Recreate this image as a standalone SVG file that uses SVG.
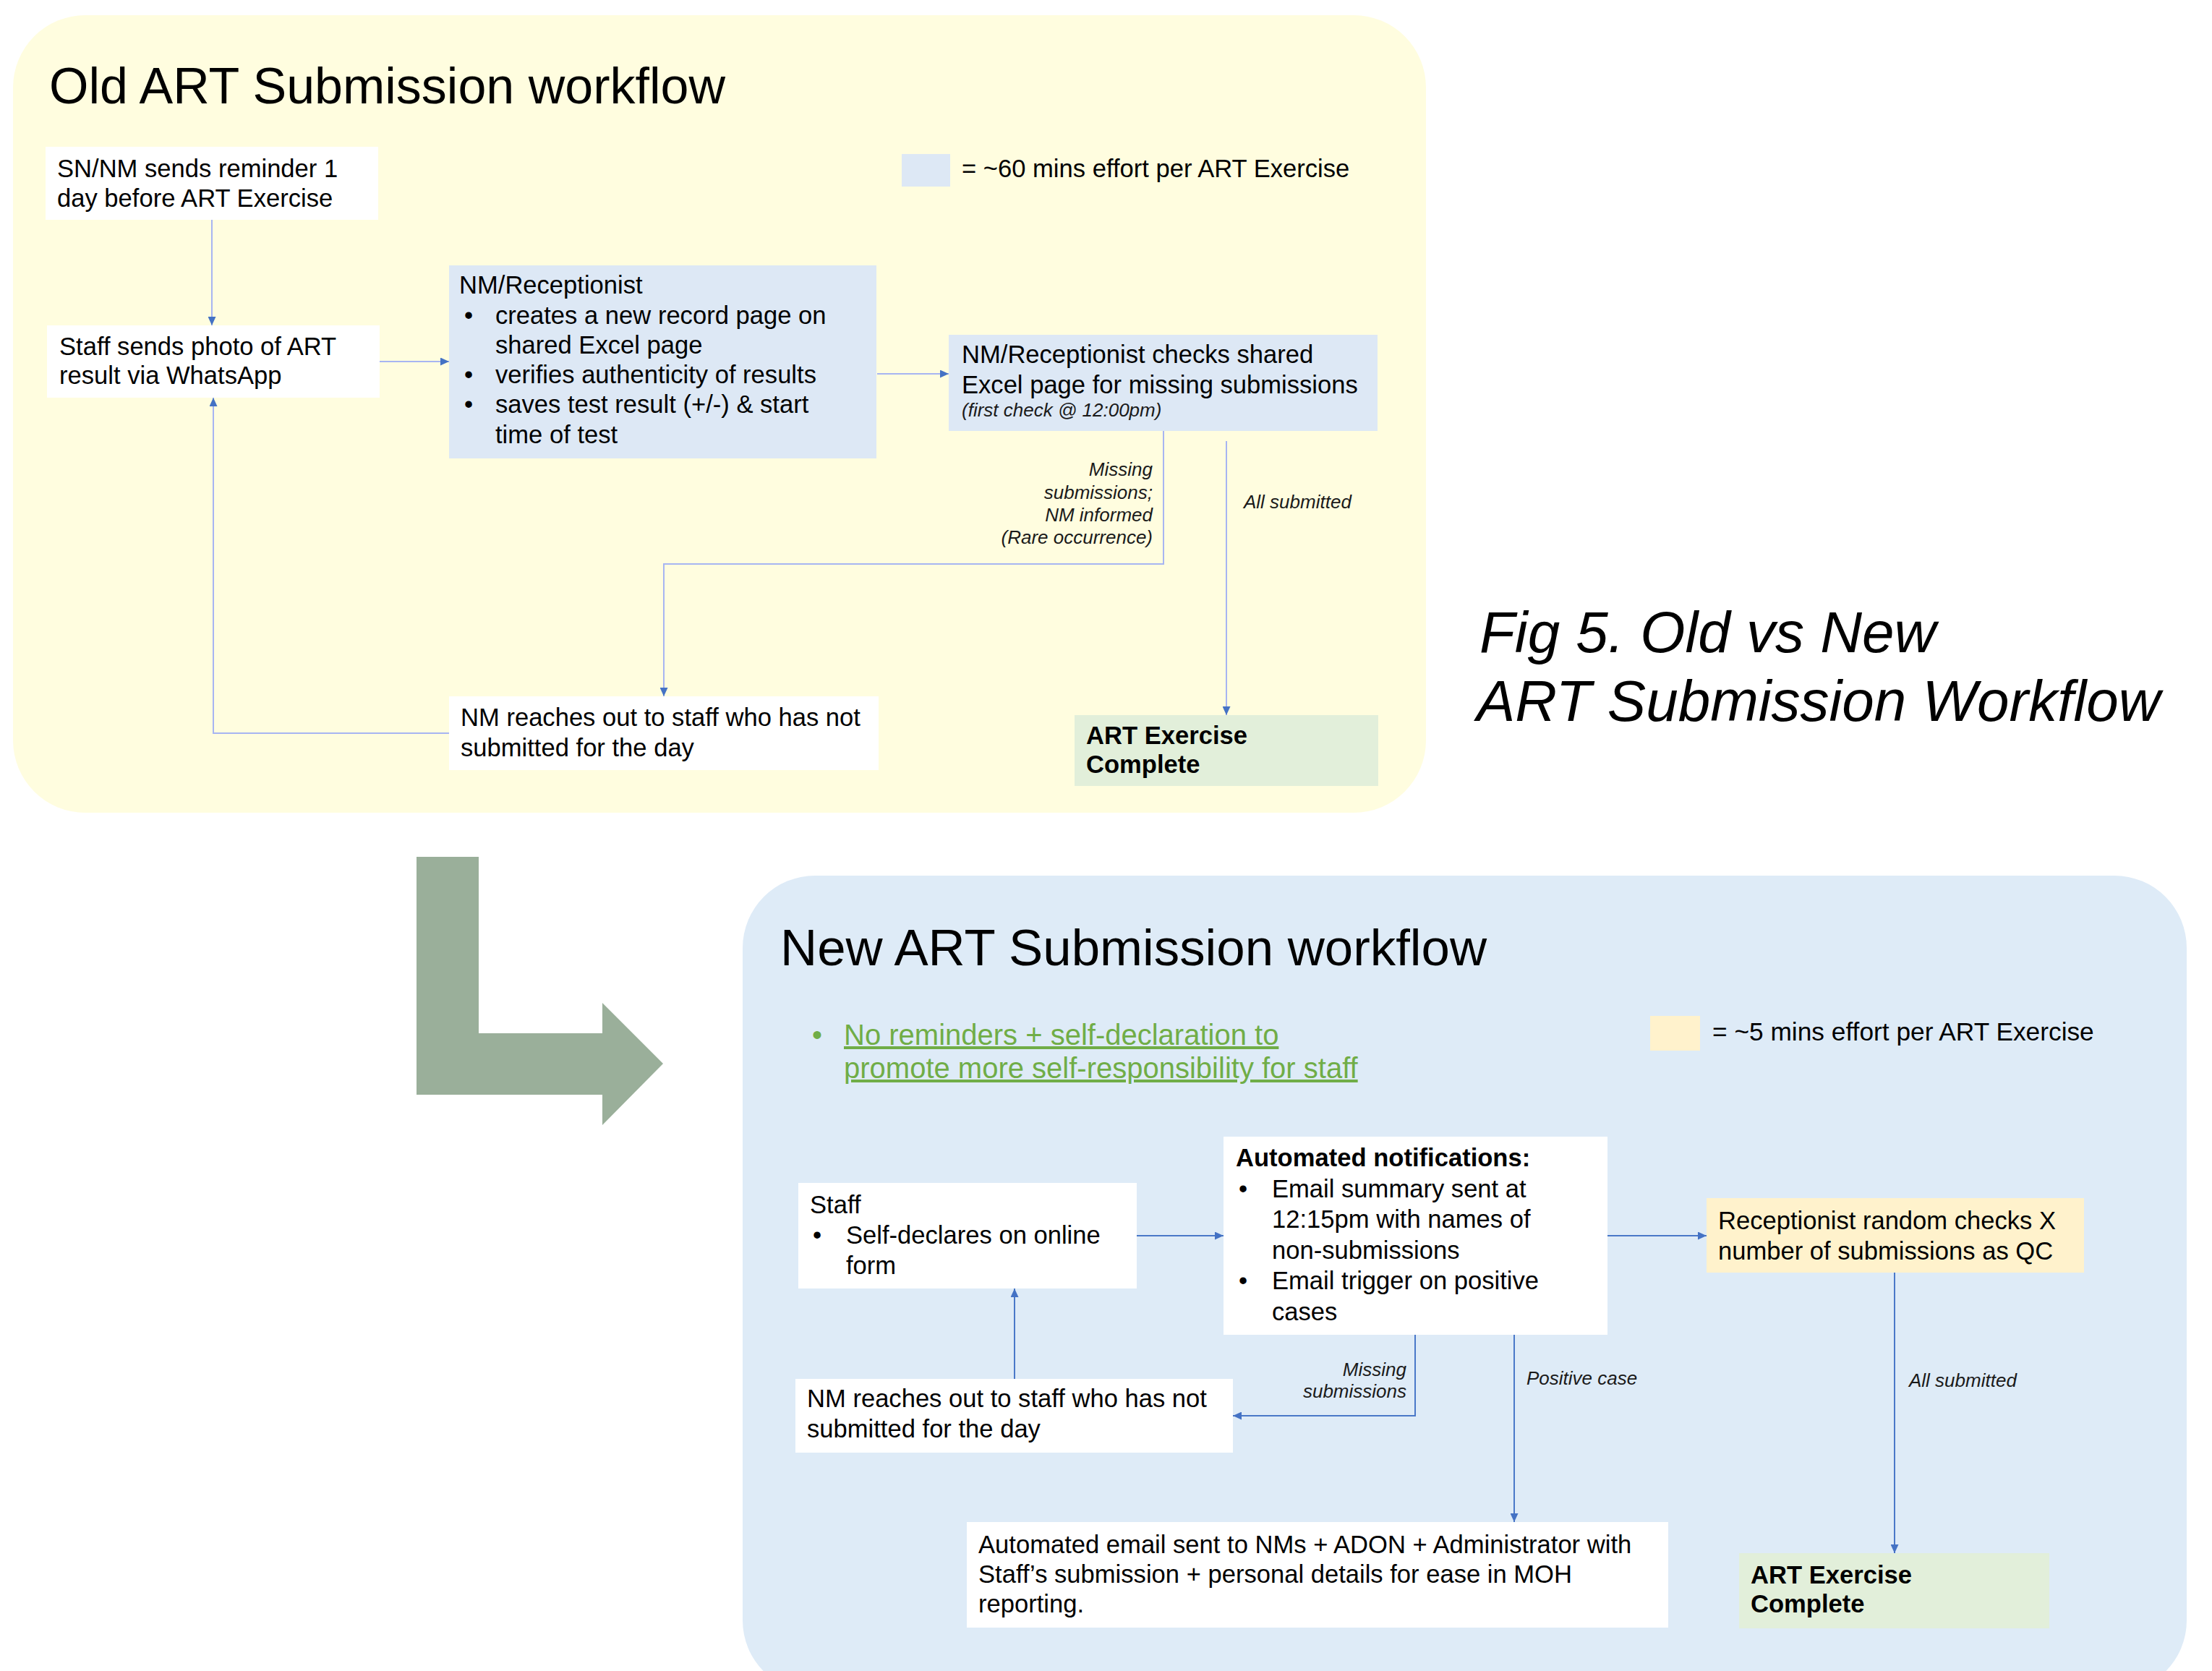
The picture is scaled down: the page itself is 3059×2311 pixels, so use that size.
<svg xmlns="http://www.w3.org/2000/svg" width="3059" height="2311" viewBox="0 0 3059 2311">
<style>
.t{font-family:"Liberation Sans",Arial,sans-serif;font-size:34.6px;fill:#000}
.b{font-weight:bold}
.lbl{font-family:"Liberation Sans",Arial,sans-serif;font-size:26px;font-style:italic;fill:#1a1a1a}
.title{font-family:"Liberation Sans",Arial,sans-serif;font-size:70px;fill:#000}
.fig{font-family:"Liberation Sans",Arial,sans-serif;font-size:80px;font-style:italic;fill:#000}
.green{font-family:"Liberation Sans",Arial,sans-serif;font-size:40px;fill:#70AD47}
.white{fill:#FFFFFF}
.blue{fill:#DDE8F5}
.done{fill:#E2EFDA}
.yel{fill:#FFF2CC}
.cold{fill:none;stroke:#A7B5F2;stroke-width:2}
.cnew{fill:none;stroke:#4A78C8;stroke-width:2}
</style>
<defs>
<marker id="ah" markerUnits="userSpaceOnUse" markerWidth="12" markerHeight="11" refX="12" refY="5.5" orient="auto">
<path d="M0,0 L12,5.5 L0,11 z" fill="#4472C4"/>
</marker>
</defs>
<rect width="3059" height="2311" fill="#FFFFFF"/>
<g id="panel-old">
<rect x="18" y="21" width="1954" height="1103" rx="100" ry="100" fill="#FFFDDF"/>
<text class="title" x="68" y="143">Old ART Submission workflow</text>
</g>
<g id="panel-new">
<rect x="1027" y="1211" width="1997" height="1130" rx="100" ry="100" fill="#DEEBF7"/>
<text class="title" x="1079" y="1335" style="font-size:70.8px">New ART Submission workflow</text>
</g>
<g id="big-arrow">
<polygon points="576,1185 662,1185 662,1429 833,1429 833,1387 917,1471 833,1556 833,1514 576,1514" fill="#9AAF9A"/>
</g>
<g id="caption">
<text class="fig" x="2046" y="902">Fig 5. Old vs New</text>
<text class="fig" x="2042" y="997">ART Submission Workflow</text>
</g>
<g id="legend-old">
<rect class="blue" x="1247" y="213" width="67" height="45"/>
<text class="t" x="1330" y="245">= ~60 mins effort per ART Exercise</text>
</g>
<g id="legend-new">
<rect class="yel" x="2282" y="1405" width="69" height="48"/>
<text class="t" x="2368" y="1439" style="font-size:35.3px">= ~5 mins effort per ART Exercise</text>
</g>
<g id="note-new">
<text class="green" x="1123" y="1445">•</text>
<text class="green" x="1167" y="1445" text-decoration="underline">No reminders + self-declaration to</text>
<text class="green" x="1167" y="1491" text-decoration="underline">promote more self-responsibility for staff</text>
</g>
<g id="connectors">
<path class="cold" d="M293,304 V450" marker-end="url(#ah)"/>
<path class="cold" d="M525,500 H621" marker-end="url(#ah)"/>
<path class="cold" d="M1213,517 H1312" marker-end="url(#ah)"/>
<path class="cold" d="M1609,596 V780 H918 V963" marker-end="url(#ah)"/>
<path class="cold" d="M1696,610 V989" marker-end="url(#ah)"/>
<path class="cold" d="M621,1014 H295 V550" marker-end="url(#ah)"/>
<text class="lbl" x="1594" y="658" text-anchor="end">Missing</text>
<text class="lbl" x="1594" y="690" text-anchor="end">submissions;</text>
<text class="lbl" x="1594" y="721" text-anchor="end">NM informed</text>
<text class="lbl" x="1594" y="752" text-anchor="end">(Rare occurrence)</text>
<text class="lbl" x="1720" y="703">All submitted</text>
<path class="cnew" d="M1572,1709 H1692" marker-end="url(#ah)"/>
<path class="cnew" d="M2223,1709 H2360" marker-end="url(#ah)"/>
<path class="cnew" d="M1403,1907 V1782" marker-end="url(#ah)"/>
<path class="cnew" d="M1957,1846 V1958 H1705" marker-end="url(#ah)"/>
<path class="cnew" d="M2094,1846 V2105" marker-end="url(#ah)"/>
<path class="cnew" d="M2620,1760 V2148" marker-end="url(#ah)"/>
<text class="lbl" x="1945" y="1903" text-anchor="end">Missing</text>
<text class="lbl" x="1945" y="1933" text-anchor="end">submissions</text>
<text class="lbl" x="2111" y="1915">Positive case</text>
<text class="lbl" x="2640" y="1918">All submitted</text>
</g>
<g id="n-sn-reminder">
<rect class="white" x="63" y="203" width="460" height="101"/>
<text class="t" x="79" y="245">SN/NM sends reminder 1</text>
<text class="t" x="79" y="286">day before ART Exercise</text>
</g>
<g id="n-staff-photo">
<rect class="white" x="65" y="450" width="460" height="100"/>
<text class="t" x="82" y="491">Staff sends photo of ART</text>
<text class="t" x="82" y="531">result via WhatsApp</text>
</g>
<g id="n-nm-receptionist">
<rect class="blue" x="621" y="367" width="591" height="267"/>
<text class="t" x="635" y="406">NM/Receptionist</text>
<text class="t" x="642" y="448">•</text>
<text class="t" x="685" y="448">creates a new record page on</text>
<text class="t" x="685" y="489">shared Excel page</text>
<text class="t" x="642" y="530">•</text>
<text class="t" x="685" y="530">verifies authenticity of results</text>
<text class="t" x="642" y="571">•</text>
<text class="t" x="685" y="571">saves test result (+/-) &amp; start</text>
<text class="t" x="685" y="613">time of test</text>
</g>
<g id="n-check">
<rect class="blue" x="1312" y="463" width="593" height="133"/>
<text class="t" x="1330" y="502">NM/Receptionist checks shared</text>
<text class="t" x="1330" y="544">Excel page for missing submissions</text>
<text class="lbl" x="1330" y="576">(first check @ 12:00pm)</text>
</g>
<g id="n-nm-reach-old">
<rect class="white" x="621" y="963" width="594" height="102"/>
<text class="t" x="637" y="1004">NM reaches out to staff who has not</text>
<text class="t" x="637" y="1046">submitted for the day</text>
</g>
<g id="n-done-old">
<rect class="done" x="1486" y="989" width="420" height="98"/>
<text class="t b" x="1502" y="1029">ART Exercise</text>
<text class="t b" x="1502" y="1069">Complete</text>
</g>
<g id="n-staff-new">
<rect class="white" x="1104" y="1636" width="468" height="146"/>
<text class="t" x="1120" y="1678">Staff</text>
<text class="t" x="1124" y="1720">•</text>
<text class="t" x="1170" y="1720">Self-declares on online</text>
<text class="t" x="1170" y="1762">form</text>
</g>
<g id="n-auto">
<rect class="white" x="1692" y="1572" width="531" height="274"/>
<text class="t b" x="1709" y="1613">Automated notifications:</text>
<text class="t" x="1713" y="1656">•</text>
<text class="t" x="1759" y="1656">Email summary sent at</text>
<text class="t" x="1759" y="1698">12:15pm with names of</text>
<text class="t" x="1759" y="1741">non-submissions</text>
<text class="t" x="1713" y="1783">•</text>
<text class="t" x="1759" y="1783">Email trigger on positive</text>
<text class="t" x="1759" y="1826">cases</text>
</g>
<g id="n-receptionist-qc">
<rect class="yel" x="2360" y="1657" width="522" height="103"/>
<text class="t" x="2376" y="1700">Receptionist random checks X</text>
<text class="t" x="2376" y="1742">number of submissions as QC</text>
</g>
<g id="n-nm-reach-new">
<rect class="white" x="1100" y="1907" width="605" height="102"/>
<text class="t" x="1116" y="1946">NM reaches out to staff who has not</text>
<text class="t" x="1116" y="1988">submitted for the day</text>
</g>
<g id="n-email">
<rect class="white" x="1337" y="2105" width="970" height="146"/>
<text class="t" x="1353" y="2148">Automated email sent to NMs + ADON + Administrator with</text>
<text class="t" x="1353" y="2189">Staff’s submission + personal details for ease in MOH</text>
<text class="t" x="1353" y="2230">reporting.</text>
</g>
<g id="n-done-new">
<rect class="done" x="2405" y="2148" width="429" height="104"/>
<text class="t b" x="2421" y="2190">ART Exercise</text>
<text class="t b" x="2421" y="2230">Complete</text>
</g>
</svg>
